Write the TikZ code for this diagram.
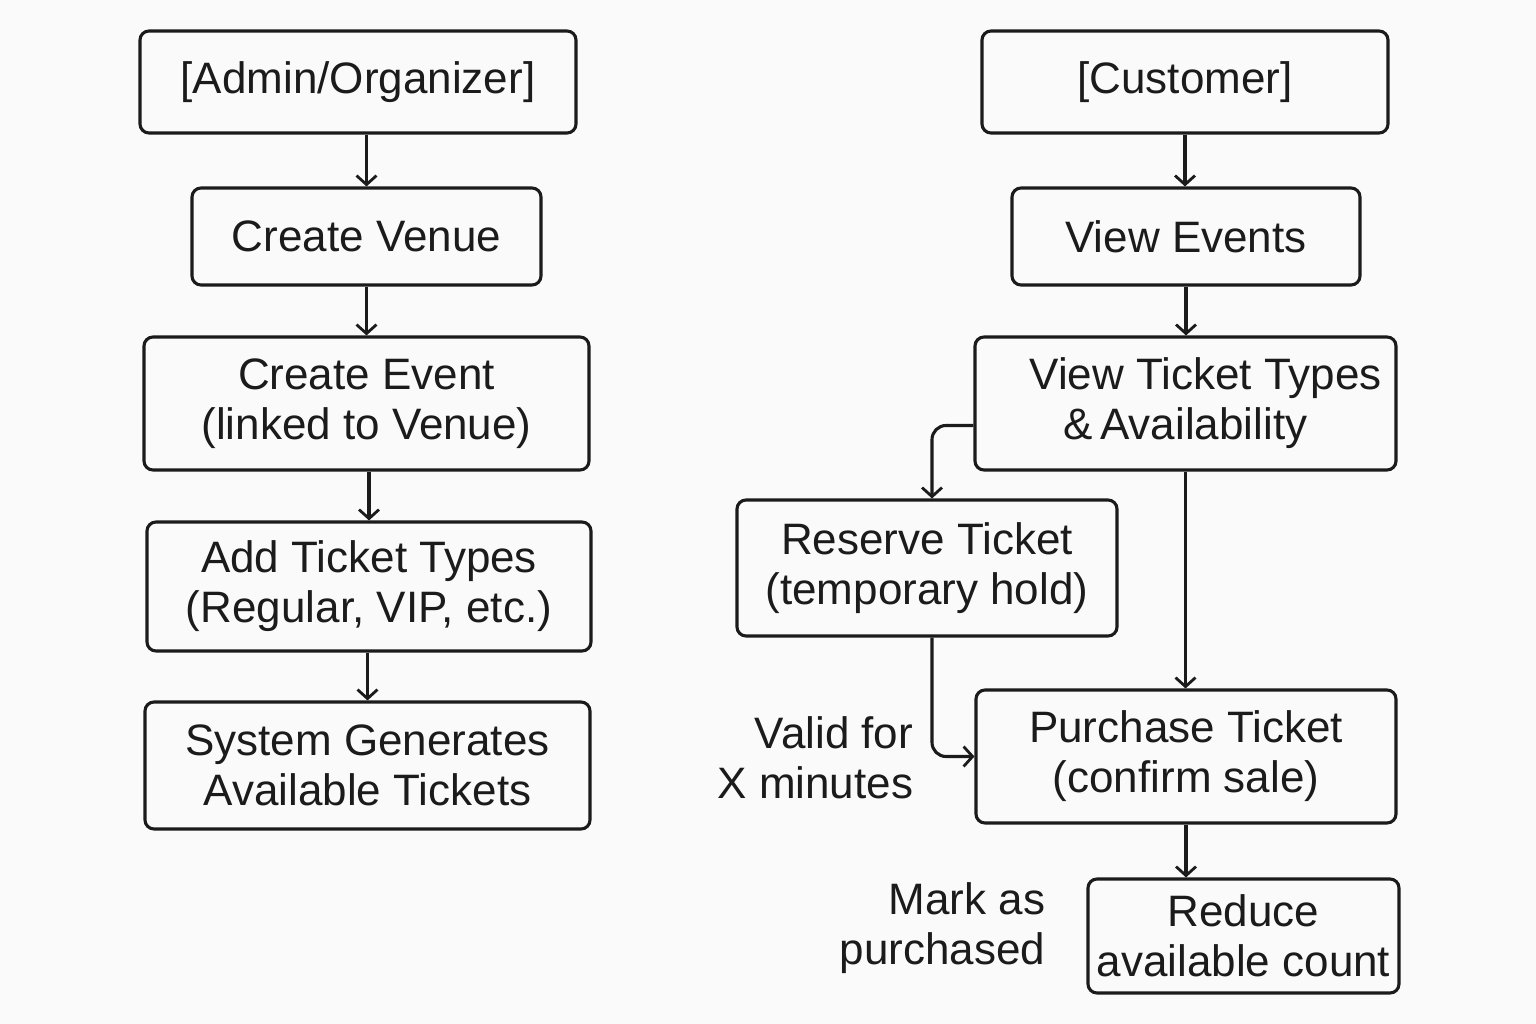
\documentclass[tikz,border=0pt]{standalone}
\usepackage{fontspec}
\setmainfont{Liberation Sans}
\usetikzlibrary{arrows.meta}
\definecolor{ink}{HTML}{1B1B1B}
\definecolor{paper}{HTML}{FAFAFA}
\begin{document}
\begin{tikzpicture}[x=1pt, y=-1pt, line width=3.1pt,
	box/.style={draw=ink, rounded corners=9pt, align=center, inner sep=0pt,
		font=\fontsize{44}{50}\selectfont, text=ink},
	arr/.style={draw=ink, rounded corners=14pt,
		-{Straight Barb[length=9pt,width=20pt,line width=2.8pt]}},
	note/.style={align=right, font=\fontsize{44}{50}\selectfont, text=ink}]
\useasboundingbox[fill=paper] (0,0) rectangle (1536,1024);
\node[box, minimum width=436pt, minimum height=102pt] (admin) at (358,82) {[Admin/Organizer]};
\node[box, minimum width=349pt, minimum height=97pt] (venue) at (366.5,236.5) {Create Venue};
\node[box, minimum width=445pt, minimum height=133pt] (event) at (366.5,403.5)
	{Create Event\\(linked to Venue)};
\node[box, minimum width=444pt, minimum height=129pt] (tickettypes) at (369,586.5)
	{Add Ticket Types\\(Regular, VIP, etc.)};
\node[box, minimum width=445pt, minimum height=127pt] (generate) at (367.5,765.5)
	{System Generates\\Available Tickets};
\node[box, minimum width=406pt, minimum height=102pt] (customer) at (1185,82) {[Customer]};
\node[box, minimum width=348pt, minimum height=97pt] (events) at (1186,236.5) {View Events};
\node[box, minimum width=421pt, minimum height=133pt] (availability) at (1185.5,403.5)
	{\hspace*{40pt}View Ticket Types\\\&\,Availability};
\node[box, minimum width=380pt, minimum height=136pt] (reserve) at (927,568)
	{Reserve Ticket\\(temporary hold)};
\node[box, minimum width=420pt, minimum height=133pt] (purchase) at (1186,756.5)
	{Purchase Ticket\\(confirm sale)};
\node[box, minimum width=311pt, minimum height=114pt] (reduce) at (1243.5,936)
	{Reduce\\available count};
\node[note, anchor=east] (valid) at (918,758) {Valid for\\X minutes};
\node[note, anchor=east] (mark) at (1050,928) {Mark as\\purchased};
\foreach \a/\b in {admin/venue, venue/event, event/tickettypes, tickettypes/generate}
\draw[arr] (\b.north |- \a.south) -- (\b.north);
\foreach \a/\b in {customer/events, events/availability, availability/purchase, purchase/reduce}
\draw[arr] (\a.south) -- (\a.south |- \b.north);
\draw[arr] ([yshift=-22pt]availability.west) -| ([xshift=5pt]reserve.north);
\draw[arr] ([xshift=5pt]reserve.south) |- (purchase.west);
\end{tikzpicture}
\end{document}
